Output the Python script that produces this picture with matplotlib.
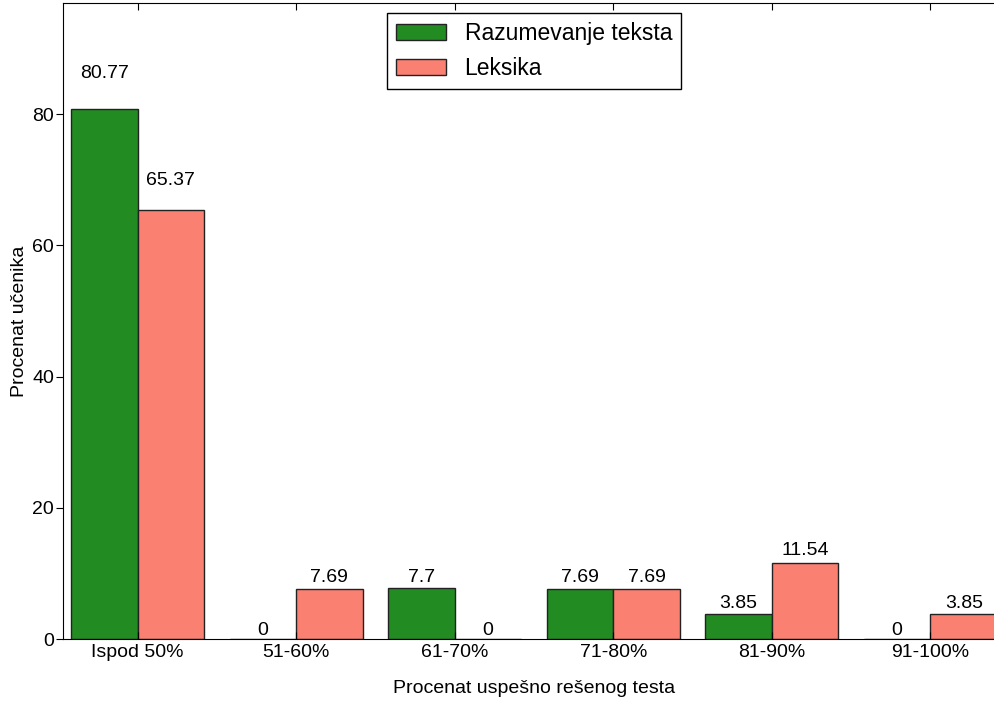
import numpy as np
import matplotlib
matplotlib.use('Agg')
import matplotlib.pyplot as plt

plt.rcParams['font.family'] = ['Liberation Sans', 'DejaVu Sans']

categories = ['Ispod 50%', '51-60%', '61-70%', '71-80%', '81-90%', '91-100%']
razumevanje = [80.77, 0, 7.7, 7.69, 3.85, 0]
leksika = [65.37, 7.69, 0, 7.69, 11.54, 3.85]
series_names = ['Razumevanje teksta', 'Leksika']

ind = np.arange(len(categories))
width = 0.42

fig = plt.figure(figsize=(9.95, 7.09), dpi=100)
ax = fig.add_axes([63/995, 70/709, 942/995, 636/709])

b1 = ax.bar(ind - width, razumevanje, width, align='edge', color='forestgreen',
            edgecolor='#222222', linewidth=1, label=series_names[0])
b2 = ax.bar(ind, leksika, width, align='edge', color='salmon',
            edgecolor='#222222', linewidth=1, label=series_names[1])

def autolabel(bars):
	for rect in bars:
		h = rect.get_height()
		ax.text(rect.get_x() + rect.get_width()/2., 1.05*h, '%g' % h,
		        ha='center', va='bottom', fontsize=14)

autolabel(b1)
autolabel(b2)

ax.set_xlim(-width - 0.05, ind[-1] + width + 0.05)
ax.set_ylim(0, max(max(razumevanje), max(leksika))*1.2)
ax.set_xticks(ind)
ax.set_xticklabels(categories, fontsize=14)
ax.set_yticks([0, 20, 40, 60, 80])
ax.tick_params(axis='y', labelsize=14, direction='out', right=True, length=5, pad=1.5)
ax.tick_params(axis='x', direction='in', top=True, length=5)
ax.set_xlabel('Procenat uspešno rešenog testa', fontsize=14, labelpad=14)
ax.set_ylabel('Procenat učenika', fontsize=14, labelpad=3)

ax.legend(loc='upper center', fontsize=16.5, fancybox=False, edgecolor='black',
          framealpha=1, borderaxespad=0.45, handlelength=2.2)
ax.legend_.get_frame().set_linewidth(1)

fig.savefig('out.png', dpi=100)
